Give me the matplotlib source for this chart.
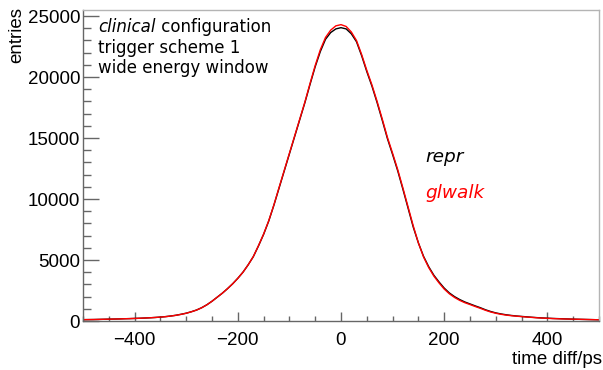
import matplotlib
matplotlib.use("Agg")
import matplotlib.pyplot as plt
from matplotlib.ticker import MultipleLocator

# ---- data ----
time_ps = [-500, -490, -480, -470, -460, -450, -440, -430, -420, -410,
           -400, -390, -380, -370, -360, -350, -340, -330, -320, -310,
           -300, -290, -280, -270, -260, -250, -240, -230, -220, -210,
           -200, -190, -180, -170, -160, -150, -140, -130, -120, -110,
           -100, -90, -80, -70, -60, -50, -40, -30, -20, -10,
           0, 10, 20, 30, 40, 50, 60, 70, 80, 90,
           100, 110, 120, 130, 140, 150, 160, 170, 180, 190,
           200, 210, 220, 230, 240, 250, 260, 270, 280, 290,
           300, 310, 320, 330, 340, 350, 360, 370, 380, 390,
           400, 410, 420, 430, 440, 450, 460, 470, 480, 490, 500]

repr_entries = [110, 115, 120, 130, 140, 150, 160, 170, 185, 195,
                210, 225, 245, 265, 290, 320, 360, 410, 470, 550,
                640, 760, 900, 1090, 1330, 1620, 1950, 2280, 2650, 3050,
                3500, 4000, 4600, 5270, 6150, 7100, 8200, 9500, 10900, 12300,
                13700, 15100, 16500, 17900, 19400, 20850, 22100, 23100, 23650, 23950,
                24050, 23950, 23550, 22900, 21750, 20450, 19250, 17900, 16450, 14950,
                13650, 12300, 10800, 9250, 7700, 6400, 5300, 4450, 3750, 3200,
                2700, 2300, 2000, 1760, 1560, 1400, 1240, 1090, 920, 780,
                665, 580, 510, 455, 410, 375, 340, 305, 275, 250,
                230, 210, 195, 180, 165, 150, 140, 130, 120, 110, 100]

glwalk_entries = [110, 115, 120, 130, 140, 150, 160, 170, 185, 195,
                  210, 225, 245, 265, 290, 320, 355, 405, 465, 545,
                  635, 755, 895, 1085, 1325, 1620, 1950, 2280, 2650, 3050,
                  3500, 4000, 4600, 5280, 6170, 7130, 8230, 9530, 10950, 12350,
                  13750, 15150, 16550, 17950, 19480, 20950, 22250, 23250, 23850, 24200,
                  24300, 24150, 23700, 23000, 21850, 20550, 19350, 18000, 16550, 15050,
                  13750, 12400, 10900, 9350, 7800, 6400, 5250, 4380, 3680, 3120,
                  2620, 2230, 1930, 1690, 1500, 1350, 1190, 1040, 880, 740,
                  635, 550, 485, 435, 395, 360, 325, 295, 265, 240,
                  220, 200, 185, 170, 160, 150, 140, 130, 120, 110, 100]

x_ticks = [-400, -200, 0, 200, 400]
y_ticks = [0, 5000, 10000, 15000, 20000, 25000]

W, H = 603, 370
fig = plt.figure(figsize=(W / 100, H / 100), dpi=100)
ax = fig.add_axes([83 / W, 1 - 321 / H, 516 / W, 311 / H])

ax.plot(time_ps, repr_entries, color="black", lw=1.0)
ax.plot(time_ps, glwalk_entries, color="#ff0000", lw=1.0)

ax.set_xlim(-500, 500)
ax.set_ylim(0, 25500)
ax.set_xticks(x_ticks)
ax.set_yticks(y_ticks)
ax.xaxis.set_minor_locator(MultipleLocator(50))
ax.yaxis.set_minor_locator(MultipleLocator(1000))

px = 72 / 100.0  # points per pixel
tick_font = "Liberation Sans"
ax.tick_params(axis="both", which="both", direction="in", color="#666666",
               width=1.0, top=False, right=False)
ax.tick_params(axis="x", which="major", length=9.3 * px, pad=11 * px)
ax.tick_params(axis="x", which="minor", length=4.6 * px)
ax.tick_params(axis="y", which="major", length=15.5 * px, pad=3 * px)
ax.tick_params(axis="y", which="minor", length=7.7 * px)
for lab in ax.get_xticklabels() + ax.get_yticklabels():
    lab.set_fontfamily(tick_font)
    lab.set_fontsize(18.8 * px)

for side in ("left", "bottom"):
    ax.spines[side].set_color("#666666")
    ax.spines[side].set_linewidth(1.0)
for side in ("top", "right"):
    ax.spines[side].set_color("#b4b4b4")
    ax.spines[side].set_linewidth(1.0)

def fx(x):
    return x / W

def fy(y):
    return 1 - y / H

# axis titles
fig.text(fx(602), fy(364), "time diff/ps", ha="right", va="baseline",
         family=tick_font, fontsize=18.8 * px)
fig.text(fx(21), fy(7), "entries", ha="right", va="baseline", rotation=90,
         rotation_mode="anchor", family=tick_font, fontsize=18.8 * px)

# annotation block
ann_size = 16.6 * px
t1 = fig.text(fx(98), fy(32), "clinical", ha="left", va="baseline",
              family="DejaVu Sans", style="italic", fontsize=ann_size)
ax.annotate(" configuration", xy=(1, 0), xycoords=t1, ha="left", va="bottom",
            family="DejaVu Sans", fontsize=ann_size)
fig.text(fx(98), fy(53), "trigger scheme 1", ha="left", va="baseline",
         family="DejaVu Sans", fontsize=ann_size)
fig.text(fx(98), fy(73), "wide energy window", ha="left", va="baseline",
         family="DejaVu Sans", fontsize=ann_size)

# legend-like labels
leg_size = 18.5 * px
fig.text(fx(425), fy(161.5), "repr", ha="left", va="baseline", color="black",
         family="DejaVu Sans", style="italic", fontsize=leg_size)
fig.text(fx(425), fy(198), "glwalk", ha="left", va="baseline", color="#ff0000",
         family="DejaVu Sans", style="italic", fontsize=leg_size)

fig.savefig("out.png", dpi=100)
